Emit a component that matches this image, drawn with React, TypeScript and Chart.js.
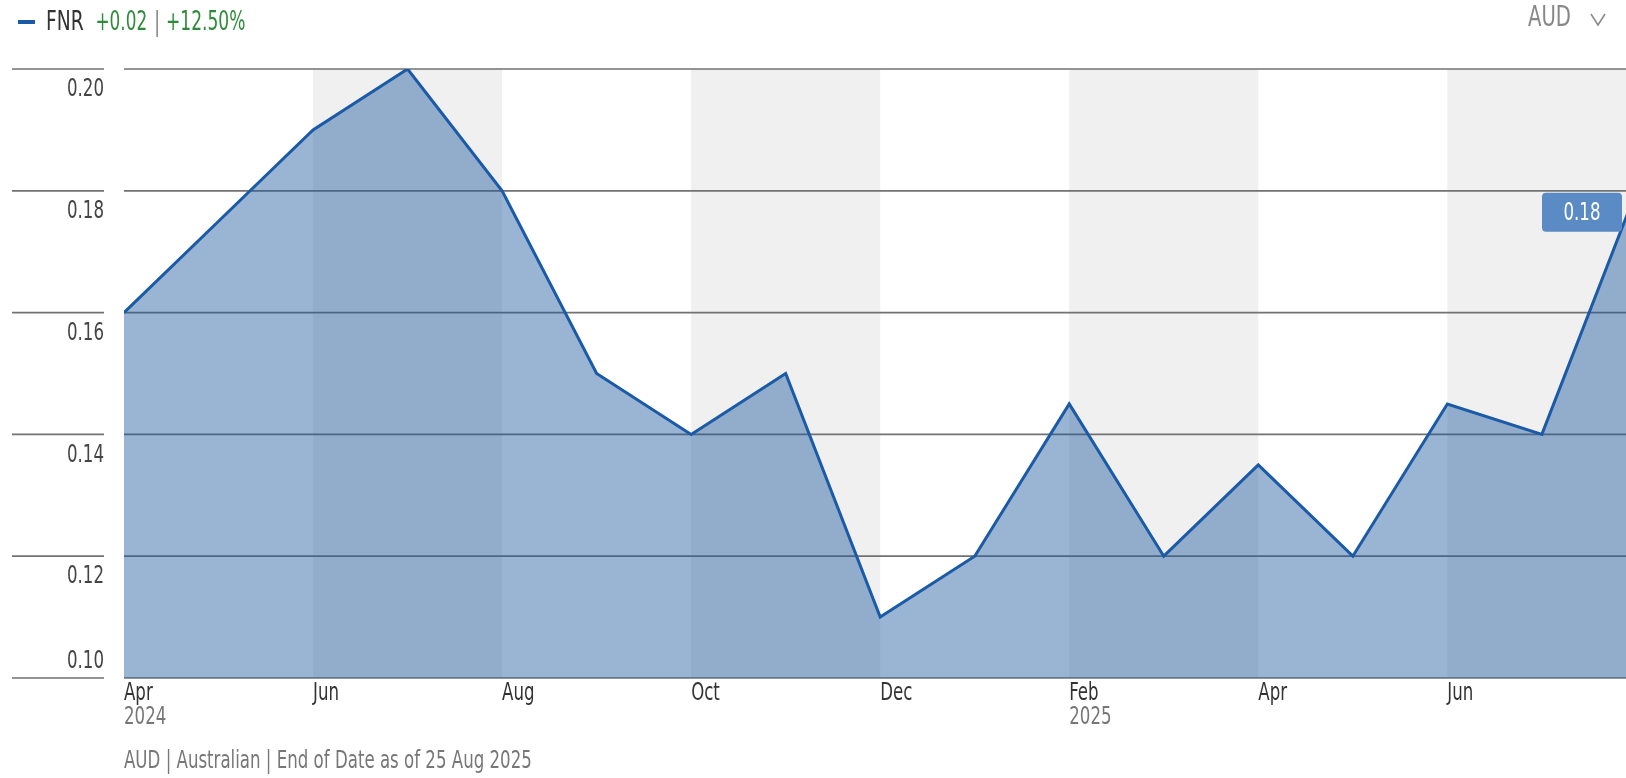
import React, { useEffect, useRef } from "react";
import { Chart, registerables } from "chart.js";

Chart.register(...registerables);

// ---- data ----
const seriesName = "FNR";
const changeAbs = "+0.02";
const changePct = "+12.50%";
const currency = "AUD";
const footerText = "AUD | Australian | End of Date as of 25 Aug 2025";

// monthly points, Apr 2024 (index 0) .. Aug 2025 (index 16)
const monthIndex = [0, 1, 2, 3, 4, 5, 6, 7, 8, 9, 10, 11, 12, 13, 14, 15, 16];
const fnrValues = [0.16, 0.175, 0.19, 0.2, 0.18, 0.15, 0.14, 0.15, 0.11, 0.12, 0.145, 0.12, 0.135, 0.12, 0.145, 0.14, 0.18];

const xTickPositions = [0, 2, 4, 6, 8, 10, 12, 14];
const xTickMonths = ["Apr", "Jun", "Aug", "Oct", "Dec", "Feb", "Apr", "Jun"];
const xTickYears = ["2024", "", "", "", "", "2025", "", ""];

const yTickValues = [0.1, 0.12, 0.14, 0.16, 0.18, 0.2];

const shadedBands = [
  [2, 4],
  [6, 8],
  [10, 12],
  [14, 16],
];

const X_MAX = 15.89;

const FONT = '"Liberation Sans Narrow", "DejaVu Sans Condensed", "Arial Narrow", sans-serif';
const LINE_COLOR = "#1b5aa6";
const SX = 0.77; // horizontal squeeze to mimic a condensed face

function txt(
  ctx: CanvasRenderingContext2D,
  s: string,
  x: number,
  y: number,
  color: string,
  align: CanvasTextAlign = "left",
  size = 24,
  sx = SX
) {
  ctx.save();
  ctx.font = `${size}px ${FONT}`;
  ctx.fillStyle = color;
  ctx.textAlign = align;
  ctx.textBaseline = "middle";
  ctx.translate(x, y);
  ctx.scale(sx, 1);
  ctx.fillText(s, 0, 0);
  ctx.restore();
}

const decorPlugin = {
  id: "decor",
  beforeDatasetsDraw(chart: any) {
    const { ctx, chartArea, scales } = chart;
    const { left, right, top, bottom } = chartArea;
    const x = scales.x;
    const y = scales.y;
    ctx.save();
    ctx.fillStyle = "#f0f0f0";
    for (const [a, b] of shadedBands) {
      const x0 = Math.max(left, x.getPixelForValue(a));
      const x1 = Math.min(right, x.getPixelForValue(b));
      if (x1 > x0) ctx.fillRect(x0, top, x1 - x0, bottom - top);
    }
    ctx.strokeStyle = "#727272";
    ctx.lineWidth = 1.7;
    for (const v of yTickValues) {
      const py = y.getPixelForValue(v);
      ctx.beginPath();
      ctx.moveTo(12, py);
      ctx.lineTo(104, py);
      ctx.moveTo(left, py);
      ctx.lineTo(right, py);
      ctx.stroke();
    }
    ctx.restore();
  },
  afterDraw(chart: any) {
    const { ctx, chartArea, scales } = chart;
    const { right, bottom } = chartArea;
    const x = scales.x;
    const y = scales.y;
    const yMin = Math.min(...yTickValues);

    // y labels
    for (const v of yTickValues) {
      const py = y.getPixelForValue(v);
      const ly = v === yMin ? py - 16 : py + 21;
      txt(ctx, v.toFixed(2), 104, ly, "#444", "right");
    }
    // x labels
    xTickPositions.forEach((p, i) => {
      const px = x.getPixelForValue(p);
      txt(ctx, xTickMonths[i], px, bottom + 16, "#333", "left");
      if (xTickYears[i]) txt(ctx, xTickYears[i], px, bottom + 40, "#777", "left");
    });
    // footer
    txt(ctx, footerText, 124, 762, "#777", "left");

    // legend
    ctx.save();
    ctx.fillStyle = LINE_COLOR;
    ctx.fillRect(18, 20, 17, 4);
    ctx.restore();
    const ly = 23;
    txt(ctx, seriesName, 46, ly, "#333", "left", 26, 0.8);
    txt(ctx, changeAbs, 95.5, ly, "#2e8b3a", "left", 26, 0.72);
    txt(ctx, "|", 154, ly, "#888", "left", 26, 0.8);
    txt(ctx, changePct, 166, ly, "#2e8b3a", "left", 26, 0.73);

    // currency selector
    txt(ctx, currency, 1571, 19, "#888", "right", 28, 0.78);
    ctx.save();
    ctx.strokeStyle = "#888";
    ctx.lineWidth = 1.5;
    ctx.beginPath();
    ctx.moveTo(1591, 14);
    ctx.lineTo(1598, 25);
    ctx.lineTo(1605, 14);
    ctx.stroke();
    ctx.restore();

    // last value badge
    const lastIdx = monthIndex[monthIndex.length - 1];
    const lastVal = fnrValues[fnrValues.length - 1];
    const py = y.getPixelForValue(lastVal);
    const px = Math.min(x.getPixelForValue(lastIdx), right);
    const bw = 80;
    const bh = 39;
    const bx = px - 4 - bw;
    const by = py + 2;
    ctx.save();
    ctx.fillStyle = "#5b8bc4";
    ctx.beginPath();
    (ctx as any).roundRect(bx, by, bw, bh, 4);
    ctx.fill();
    ctx.restore();
    txt(ctx, lastVal.toFixed(2), bx + bw / 2, by + bh / 2 + 1, "#ffffff", "center");
  },
};

export default function App() {
  const ref = useRef<HTMLCanvasElement>(null);
  useEffect(() => {
    if (!ref.current) return;
    const chart = new Chart(ref.current, {
      type: "line",
      data: {
        datasets: [
          {
            label: seriesName,
            data: monthIndex.map((m, i) => ({ x: m, y: fnrValues[i] })),
            borderColor: LINE_COLOR,
            borderWidth: 3,
            backgroundColor: "rgba(30,90,160,0.45)",
            fill: "start",
            pointRadius: 0,
            tension: 0,
          },
        ],
      },
      options: {
        animation: false,
        responsive: false,
        devicePixelRatio: 1,
        layout: { padding: { top: 69, left: 0, right: 0, bottom: 0 } },
        plugins: { legend: { display: false }, tooltip: { enabled: false } },
        scales: {
          x: {
            type: "linear",
            min: 0,
            max: X_MAX,
            grid: { display: false, drawTicks: false },
            border: { display: false },
            ticks: { display: false },
            afterFit: (s: any) => {
              s.height = 100;
            },
          },
          y: {
            type: "linear",
            min: 0.1,
            max: 0.2,
            grid: { display: false, drawTicks: false },
            border: { display: false },
            ticks: { display: false, stepSize: 0.02 },
            afterFit: (s: any) => {
              s.width = 124;
            },
          },
        },
      },
      plugins: [decorPlugin],
    });
    return () => chart.destroy();
  }, []);
  return (
    <div style={{ position: "fixed", left: 0, top: 0, width: 1626, height: 778, background: "#fff" }}>
      <canvas ref={ref} width={1626} height={778} style={{ display: "block" }} />
    </div>
  );
}
